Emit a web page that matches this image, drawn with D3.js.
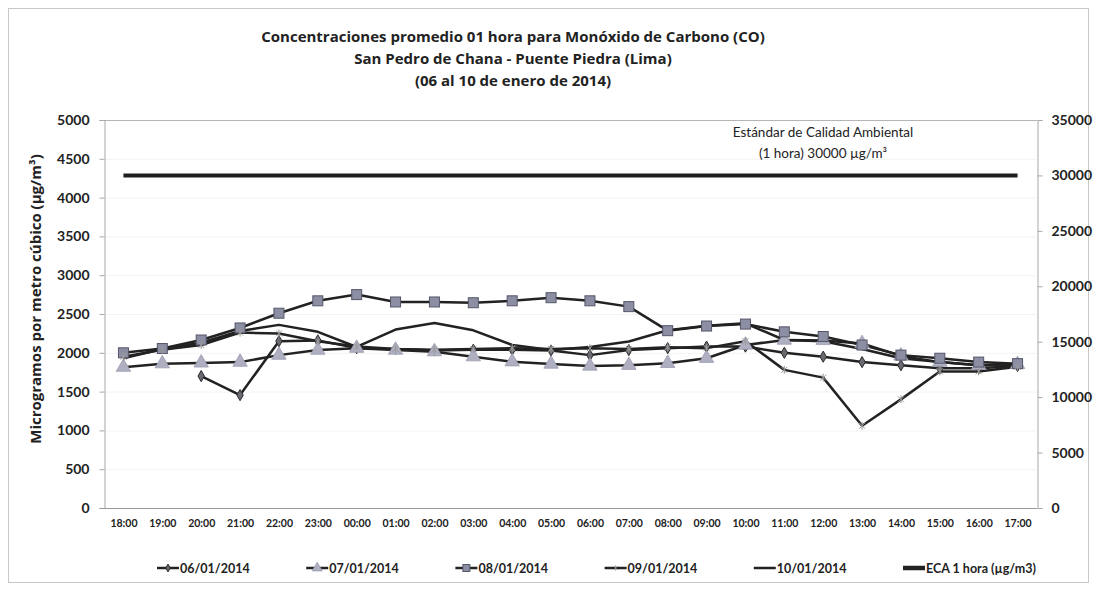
<!DOCTYPE html>
<html>
<head>
<meta charset="utf-8">
<script src="https://cdn.jsdelivr.net/npm/d3@7"></script>
<style>
  body { margin: 0; background: #fff; }
  svg text { fill: #222; }
</style>
</head>
<body>
<svg id="chart"></svg>
<script>
// categories (hour of day)
const hours = ["18:00", "19:00", "20:00", "21:00", "22:00", "23:00", "00:00", "01:00",
  "02:00", "03:00", "04:00", "05:00", "06:00", "07:00", "08:00", "09:00",
  "10:00", "11:00", "12:00", "13:00", "14:00", "15:00", "16:00", "17:00"];

// hourly CO (ug/m3)
const d0601 = [null, null, 1700, 1455, 2150, 2160, 2060, 2050, 2030, 2040, 2040, 2030,
  1970, 2035, 2060, 2080, 2080, 2000, 1950, 1880, 1840, 1800, 1800, 1830];
const d0701 = [1815, 1860, 1870, 1880, 1970, 2035, 2060, 2035, 2015, 1950, 1885, 1855,
  1830, 1840, 1865, 1930, 2100, 2165, 2160, 2120, 1960, 1880, 1840, 1850];
const d0801 = [2000, 2055, 2165, 2320, 2510, 2670, 2750, 2655, 2655, 2645, 2670, 2710,
  2670, 2595, 2285, 2345, 2370, 2270, 2210, 2100, 1970, 1930, 1880, 1860];
const d0901 = [1950, 2040, 2100, 2260, 2250, 2150, 2080, 2050, 2040, 2050, 2060, 2050,
  2060, 2050, 2070, 2060, 2150, 1780, 1680, 1060, 1400, 1760, 1760, 1820];
const d1001 = [1930, 2050, 2130, 2280, 2360, 2270, 2075, 2300, 2385, 2290, 2100, 2035,
  2075, 2145, 2290, 2350, 2380, 2165, 2150, 2050, 1930, 1880, 1840, 1850];
// ECA 1 hora, right axis
const eca = 30000;

const leftTicks = d3.range(0, 5001, 500);
const rightTicks = d3.range(0, 35001, 5000);

const W = 1097, H = 590;
const plot = { left: 104, right: 1037, top: 120, bottom: 508 };
const lato = "Lato, sans-serif";
const openSans = "'Open Sans', sans-serif";

const svg = d3.select("#chart").attr("width", W).attr("height", H);

// outer frame
svg.append("rect")
  .attr("x", 8.5).attr("y", 8.5)
  .attr("width", 1080).attr("height", 574)
  .attr("fill", "none").attr("stroke", "#c8c8c8");

const x = d3.scalePoint().domain(hours).range([plot.left, plot.right]).padding(0.5);
const yL = d3.scaleLinear().domain([0, 5000]).range([plot.bottom, plot.top]);
const yR = d3.scaleLinear().domain([0, 35000]).range([plot.bottom, plot.top]);

// faint gridlines
svg.append("g").selectAll("line")
  .data(leftTicks.slice(1))
  .enter().append("line")
  .attr("x1", plot.left).attr("x2", plot.right)
  .attr("y1", d => yL(d) + 0.5).attr("y2", d => yL(d) + 0.5)
  .attr("stroke", "#f3f3f3");

// plot area top border
svg.append("line")
  .attr("x1", 100).attr("x2", plot.right)
  .attr("y1", plot.top + 0.5).attr("y2", plot.top + 0.5)
  .attr("stroke", "#b5b5b5");

// titles
const titles = [
  "Concentraciones promedio 01 hora para Monóxido de Carbono (CO)",
  "San Pedro de Chana - Puente Piedra (Lima)",
  "(06 al 10 de enero de 2014)"
];
svg.append("g").selectAll("text")
  .data(titles)
  .enter().append("text")
  .attr("x", 513)
  .attr("y", (d, i) => 42 + i * 22)
  .attr("text-anchor", "middle")
  .style("font-family", openSans)
  .style("font-size", "15px")
  .style("font-weight", "bold")
  .text(d => d);

// axes
const axisL = svg.append("g")
  .attr("transform", "translate(" + (plot.left + 0.5) + ",0)")
  .call(d3.axisLeft(yL).tickValues(leftTicks).tickFormat(d3.format("d"))
    .tickSize(5).tickPadding(10));
const axisR = svg.append("g")
  .attr("transform", "translate(" + (plot.right + 0.5) + ",0)")
  .call(d3.axisRight(yR).tickValues(rightTicks).tickFormat(d3.format("d"))
    .tickSize(5).tickPadding(9));
const axisX = svg.append("g")
  .attr("transform", "translate(0," + (plot.bottom + 0.5) + ")")
  .call(d3.axisBottom(x).tickSize(0).tickPadding(11));

[axisL, axisR].forEach(function (g) {
  g.select(".domain").attr("stroke", "#a8a8a8");
  g.selectAll(".tick line").attr("stroke", "#a8a8a8");
  g.selectAll(".tick text")
    .style("font-family", lato)
    .style("font-size", "14px")
    .style("font-weight", "bold");
});
axisX.select(".domain").attr("stroke", "#999").attr("d", "M100,0H" + plot.right);
axisX.selectAll(".tick text")
  .style("font-family", lato)
  .style("font-size", "10.5px")
  .style("font-weight", "bold");

// y axis title
svg.append("text")
  .attr("transform", "translate(41,299) rotate(-90)")
  .attr("text-anchor", "middle")
  .style("font-family", openSans)
  .style("font-size", "15px")
  .style("font-weight", "bold")
  .text("Microgramos por metro cúbico (µg/m³)");

// ECA line + note
svg.append("line")
  .attr("x1", x(hours[0])).attr("x2", x(hours[hours.length - 1]))
  .attr("y1", yR(eca)).attr("y2", yR(eca))
  .attr("stroke", "#1e1e1e").attr("stroke-width", 4);
svg.append("text")
  .attr("x", 823).attr("y", 137)
  .attr("text-anchor", "middle")
  .style("font-family", lato).style("font-size", "13.5px")
  .text("Estándar de Calidad Ambiental");
svg.append("text")
  .attr("x", 823).attr("y", 158)
  .attr("text-anchor", "middle")
  .style("font-family", lato).style("font-size", "13.5px")
  .text("(1 hora) 30000 µg/m³");

// series
const series = [
  { name: "06/01/2014", values: d0601, marker: "diamond" },
  { name: "07/01/2014", values: d0701, marker: "triangle" },
  { name: "08/01/2014", values: d0801, marker: "square" },
  { name: "09/01/2014", values: d0901, marker: "x" },
  { name: "10/01/2014", values: d1001, marker: "none" }
];

const line = d3.line()
  .defined(d => d.v != null)
  .x(d => x(d.h))
  .y(d => yL(d.v));

function drawMarker(g, type, cx, cy, scale) {
  const s = scale || 1;
  if (type === "square") {
    g.append("rect")
      .attr("x", cx - 5 * s).attr("y", cy - 5 * s)
      .attr("width", 10 * s).attr("height", 10 * s)
      .attr("fill", "#8c8ea3").attr("stroke", "#55566a").attr("stroke-width", 1);
  } else if (type === "triangle") {
    g.append("path")
      .attr("d", d3.symbol(d3.symbolTriangle, 90 * s * s)())
      .attr("transform", "translate(" + cx + "," + cy + ")")
      .attr("fill", "#aeb0c2").attr("stroke", "#9a9cae").attr("stroke-width", 0.8);
  } else if (type === "diamond") {
    g.append("path")
      .attr("d", d3.symbol(d3.symbolDiamond, 36 * s * s)())
      .attr("transform", "translate(" + cx + "," + cy + ")")
      .attr("fill", "#6a6a72").attr("stroke", "#2a2a2a").attr("stroke-width", 1);
  } else if (type === "x") {
    g.append("path")
      .attr("d", "M-3,-3L3,3M-3,3L3,-3M0,-4V4")
      .attr("transform", "translate(" + cx + "," + cy + ") scale(" + s + ")")
      .attr("fill", "none").attr("stroke", "#9a9a9a").attr("stroke-width", 1);
  }
}

const gSeries = svg.append("g");
series.forEach(function (s) {
  const pts = hours.map((h, i) => ({ h: h, v: s.values[i] }));
  gSeries.append("path")
    .datum(pts)
    .attr("fill", "none")
    .attr("stroke", "#222")
    .attr("stroke-width", 2.5)
    .attr("stroke-linejoin", "round")
    .attr("d", line);
});
series.forEach(function (s) {
  const gm = gSeries.append("g");
  hours.forEach(function (h, i) {
    if (s.values[i] != null) drawMarker(gm, s.marker, x(h), yL(s.values[i]));
  });
});

// legend
const legendItems = series.map(d => ({ name: d.name, marker: d.marker, w: 2 }))
  .concat([{ name: "ECA 1 hora (µg/m3)", marker: "none", w: 4 }]);
const legend = svg.append("g").attr("transform", "translate(0,568)");
legendItems.forEach(function (d, i) {
  const lx = 157 + i * 149.2;
  legend.append("line")
    .attr("x1", lx).attr("x2", lx + 22)
    .attr("y1", 0).attr("y2", 0)
    .attr("stroke", "#222").attr("stroke-width", d.w + 0.5);
  drawMarker(legend, d.marker, lx + 11, 0, 0.7);
  legend.append("text")
    .attr("x", lx + 23).attr("y", 4.5)
    .style("font-family", lato)
    .style("font-size", "12.5px")
    .style("font-weight", "bold")
    .text(d.name);
});
</script>
</body>
</html>
